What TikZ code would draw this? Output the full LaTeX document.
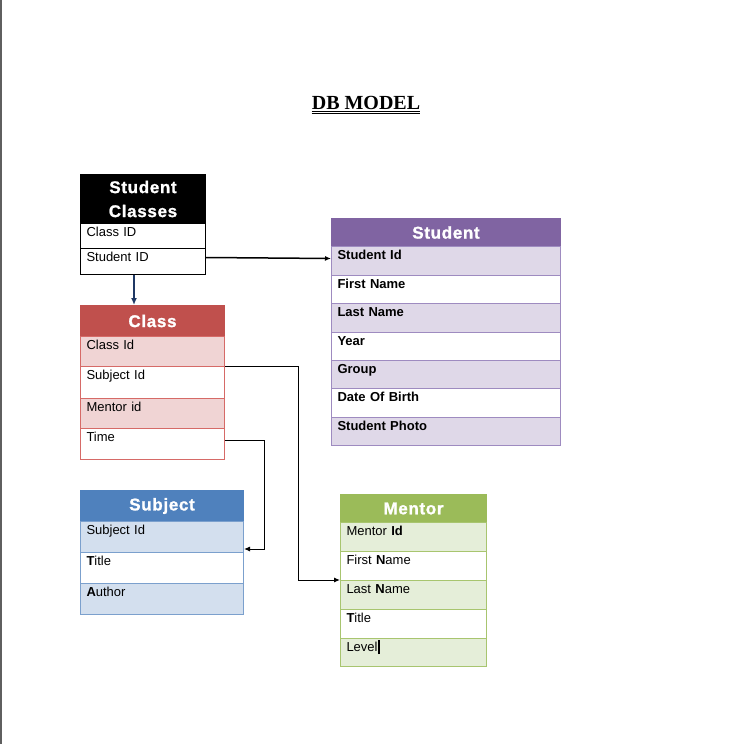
\documentclass[tikz,border=0pt]{standalone}
\usepackage{fontspec}
\setmainfont{Liberation Sans}
\newfontfamily\titlefont{Liberation Serif}
\newfontfamily\hdrfont[LetterSpace=4,FakeBold=1.2]{Liberation Sans}
\usetikzlibrary{arrows.meta,calc}
\definecolor{stHead}{HTML}{8064A2}\definecolor{stFill}{HTML}{DFD8E8}\definecolor{stLine}{HTML}{9E8BC0}
\definecolor{clHead}{HTML}{C0504D}\definecolor{clFill}{HTML}{F0D4D4}\definecolor{clLine}{HTML}{D66A67}
\definecolor{sbHead}{HTML}{4F81BD}\definecolor{sbFill}{HTML}{D3DFEE}\definecolor{sbLine}{HTML}{7BA0CD}
\definecolor{mnHead}{HTML}{9BBB59}\definecolor{mnFill}{HTML}{E5EED9}\definecolor{mnLine}{HTML}{A8C56F}
\definecolor{navy}{HTML}{1F3864}
\definecolor{edge}{HTML}{5F5F5F}
\tikzset{
  cellbox/.style={anchor=north west, line width=1pt, inner xsep=6pt, inner ysep=0pt,
    align=left, font=\fontsize{13}{15}\selectfont, text height=13pt},
  hdrbox/.style={anchor=north west, line width=1pt, inner sep=0pt, align=center,
    text=white, font=\hdrfont\bfseries\fontsize{17}{24}\selectfont},
  conn/.style={draw=black, line width=1pt, -{Latex[length=6pt,width=5pt]}},
}
\newcommand\dbcell[8]{\node[cellbox, fill=#6, draw=#7, text width=#4pt-12pt,
  minimum height=#5pt, text depth=#5pt-13pt] (#1) at (#2,#3) {#8};}
\newcommand\dbhead[8]{\node[hdrbox, fill=#6, draw=#7, text width=#4pt,
  minimum height=#5pt] (#1) at (#2,#3) {#8};}
\begin{document}
\begin{tikzpicture}[x=1pt,y=-1pt]
\useasboundingbox (0,0) rectangle (731,744);
\fill[white] (0,0) rectangle (731,744);
\draw[edge, line width=1.5pt] (0.75,0) -- (0.75,744);
% title
\node[anchor=base, inner sep=0pt, font=\titlefont\bfseries\fontsize{20}{20}\selectfont] (title) at (366,109) {DB MODEL};
\draw[line width=1pt] ([yshift=-2pt]title.base west) -- ([yshift=-2pt]title.base east);
\draw[line width=1pt] ([yshift=-4.5pt]title.base west) -- ([yshift=-4.5pt]title.base east);
% Student Classes
\dbhead{sch}{80}{174}{125}{49}{black}{black}{Student\\Classes}
\dbcell{sc1}{80}{223}{125}{25}{white}{black}{Class ID}
\dbcell{sc2}{80}{248}{125}{26}{white}{black}{Student ID}
% Student
\dbhead{sth}{331}{218}{229}{28}{stHead}{stHead}{Student}
\dbcell{st1}{331}{246}{229}{29}{stFill}{stLine}{\bfseries Student Id}
\dbcell{st2}{331}{275}{229}{28}{white}{stLine}{\bfseries First Name}
\dbcell{st3}{331}{303}{229}{29}{stFill}{stLine}{\bfseries Last Name}
\dbcell{st4}{331}{332}{229}{28}{white}{stLine}{\bfseries Year}
\dbcell{st5}{331}{360}{229}{28}{stFill}{stLine}{\bfseries Group}
\dbcell{st6}{331}{388}{229}{29}{white}{stLine}{\bfseries Date Of Birth}
\dbcell{st7}{331}{417}{229}{28}{stFill}{stLine}{\bfseries Student Photo}
% Class
\dbhead{clh}{80}{305}{144}{31}{clHead}{clHead}{Class}
\dbcell{c1}{80}{336}{144}{30}{clFill}{clLine}{Class Id}
\dbcell{c2}{80}{366}{144}{32}{white}{clLine}{Subject Id}
\dbcell{c3}{80}{398}{144}{30}{clFill}{clLine}{Mentor id}
\dbcell{c4}{80}{428}{144}{31}{white}{clLine}{Time}
% Subject
\dbhead{sbh}{80}{490}{163}{31}{sbHead}{sbHead}{Subject}
\dbcell{s1}{80}{521}{163}{31}{sbFill}{sbLine}{Subject Id}
\dbcell{s2}{80}{552}{163}{31}{white}{sbLine}{\textbf{T}itle}
\dbcell{s3}{80}{583}{163}{31}{sbFill}{sbLine}{\textbf{A}uthor}
% Mentor
\dbhead{mnh}{340}{494}{146}{28}{mnHead}{mnHead}{Mentor}
\dbcell{m1}{340}{522}{146}{29}{mnFill}{mnLine}{Mentor \textbf{Id}}
\dbcell{m2}{340}{551}{146}{29}{white}{mnLine}{First \textbf{N}ame}
\dbcell{m3}{340}{580}{146}{29}{mnFill}{mnLine}{Last \textbf{N}ame}
\dbcell{m4}{340}{609}{146}{29}{white}{mnLine}{\textbf{T}itle}
\dbcell{m5}{340}{638}{146}{28}{mnFill}{mnLine}{Level\rule[-2.5pt]{2pt}{14pt}}
% connectors
\draw[conn, line width=1.5pt] ([yshift=4pt]sc2.east) -- ([yshift=2.5pt]st1.west);
\draw[conn, draw=navy, line width=2pt, -{Latex[length=7pt,width=6pt]}] (sc2.south west) ++(54,0) coordinate (a1) -- (a1 |- clh.north);
\draw[conn] (c2.north east) -- ++(73,0) |- (m3.north west);
\draw[conn] ([yshift=4pt]c4.east) -- ++(39,0) |- ([yshift=4pt]s1.south east);
\end{tikzpicture}
\end{document}
